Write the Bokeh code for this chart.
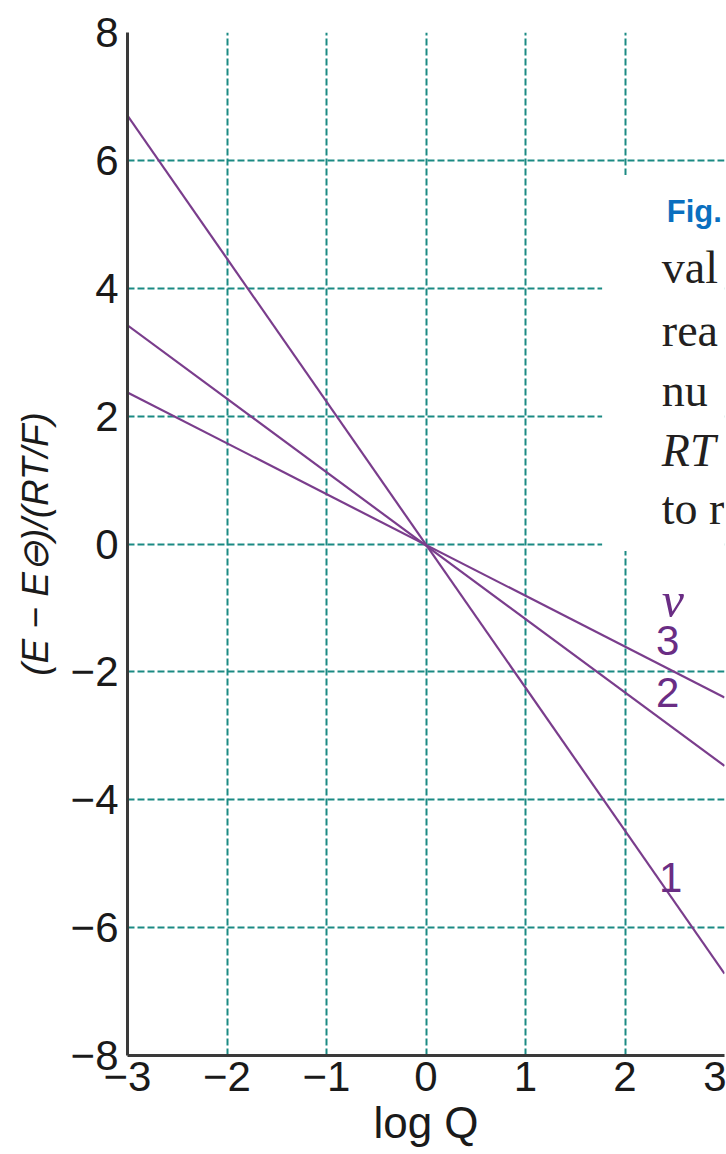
from bokeh.plotting import figure
from bokeh.models import Range1d, FixedTicker, LabelSet, ColumnDataSource
from bokeh.core.properties import value
from bokeh.embed import file_html
from bokeh.resources import INLINE

# ---- data ----
log_q = [-3, 3]
nu1 = [6.70, -6.72]
nu2 = [3.42, -3.47]
nu3 = [2.37, -2.40]

curve_label_text = ["1", "2", "3"]
curve_label_x = [2.46, 2.43, 2.43]
curve_label_y = [-5.21, -2.32, -1.51]
nu_label_x = [2.48]
nu_label_y = [-0.88]

x_ticks = [-3, -2, -1, 0, 1, 2, 3]
x_tick_labels = ["\u22123", "\u22122", "\u22121", "0", "1", "2", "3"]
y_ticks = [-8, -6, -4, -2, 0, 2, 4, 6, 8]
y_tick_labels = ["\u22128", "\u22126", "\u22124", "\u22122", "0", "2", "4", "6", "8"]

caption_head = ["Fig."]
caption_words = ["val", "rea", "nu", "to r"]
caption_word_y = [4.08, 3.09, 2.16, 0.31]
caption_italic = ["RT"]
caption_italic_y = [1.22]

TEAL = "#1b8a83"
PURPLE = "#7a3d8c"
LABEL_PURPLE = "#6a2d84"

p = figure(width=726, height=1154,
           x_range=Range1d(-3, 3), y_range=Range1d(-8, 8),
           output_backend="svg", toolbar_location=None,
           min_border_left=127, min_border_right=2,
           min_border_top=32, min_border_bottom=99)
p.outline_line_color = None
p.background_fill_color = "white"
p.border_fill_color = "white"

# grid
p.xgrid.ticker = FixedTicker(ticks=x_ticks)
p.ygrid.ticker = FixedTicker(ticks=y_ticks)
for g in (p.xgrid, p.ygrid):
    g.grid_line_color = TEAL
    g.grid_line_width = 2
    g.grid_line_dash = "7 3"

# axes
p.xaxis.ticker = FixedTicker(ticks=x_ticks)
p.yaxis.ticker = FixedTicker(ticks=y_ticks)
p.xaxis.major_label_overrides = {t: l for t, l in zip(x_ticks, x_tick_labels)}
p.yaxis.major_label_overrides = {t: l for t, l in zip(y_ticks, y_tick_labels)}
for ax in (p.xaxis, p.yaxis):
    ax.axis_line_color = "#3a3a3a"
    ax.axis_line_width = 3
    ax.major_tick_line_color = None
    ax.minor_tick_line_color = None
    ax.major_tick_out = 0
    ax.major_tick_in = 0
    ax.major_label_text_font = "Liberation Sans"
    ax.major_label_text_font_size = "42px"
    ax.major_label_text_color = "#1a1a1a"
    ax.axis_label_text_font = "Liberation Sans"
    ax.axis_label_text_color = "#1a1a1a"
p.xaxis.major_label_standoff = 6
p.yaxis.major_label_standoff = 9
p.xaxis.axis_label = "log Q"
p.xaxis.axis_label_text_font_size = "44px"
p.xaxis.axis_label_text_font_style = "normal"
p.xaxis.axis_label_standoff = 4
p.yaxis.axis_label = "(E \u2212 E\u2296)/(RT/F)"
p.yaxis.axis_label_text_font_size = "37px"
p.yaxis.axis_label_text_font_style = "italic"
p.yaxis.axis_label_standoff = 12

# lines
for ys in (nu1, nu2, nu3):
    p.line(log_q, ys, line_color=PURPLE, line_width=2.2)

# caption panel covering part of the grid
p.quad(left=[1.77], right=[3.3], top=[5.77], bottom=[-0.11],
       fill_color="white", line_color=None)

head_src = ColumnDataSource(dict(x=[2.42], y=[5.03], text=caption_head))
p.add_layout(LabelSet(x="x", y="y", text="text", source=head_src,
                      text_font=value("Liberation Sans"), text_font_size="31px",
                      text_font_style="bold", text_color="#0a6fbf",
                      text_baseline="alphabetic", text_align="left"))
word_src = ColumnDataSource(dict(x=[2.37] * len(caption_words), y=caption_word_y,
                                 text=caption_words))
p.add_layout(LabelSet(x="x", y="y", text="text", source=word_src,
                      text_font=value("Liberation Serif"), text_font_size="46px",
                      text_color="#231f20", text_baseline="alphabetic",
                      text_align="left"))
ital_src = ColumnDataSource(dict(x=[2.37], y=caption_italic_y, text=caption_italic))
p.add_layout(LabelSet(x="x", y="y", text="text", source=ital_src,
                      text_font=value("Liberation Serif"), text_font_size="46px",
                      text_font_style="italic", text_color="#231f20",
                      text_baseline="alphabetic", text_align="left"))

# curve labels
p.text(x=curve_label_x, y=curve_label_y, text=curve_label_text,
       text_font=value("Liberation Sans"), text_font_size="42px",
       text_color=LABEL_PURPLE, text_align="center", text_baseline="middle")
p.text(x=nu_label_x, y=nu_label_y, text=["\u03bd"],
       text_font=value("Liberation Serif"), text_font_size="50px",
       text_font_style="italic", text_color=LABEL_PURPLE,
       text_align="center", text_baseline="middle")

open("out.html", "w").write(file_html(p, INLINE))
